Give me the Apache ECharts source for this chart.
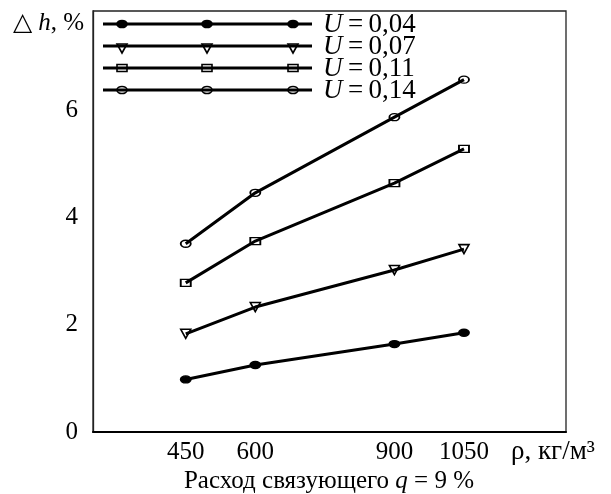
<!DOCTYPE html>
<html>
<head>
<meta charset="utf-8">
<script src="https://cdn.jsdelivr.net/npm/echarts@6/dist/echarts.min.js"></script>
<style>
  html, body { margin: 0; padding: 0; background: #fff; }
  #chart { width: 611px; height: 494px; }
</style>
</head>
<body>
<div id="chart"></div>
<script>
// Density of the material, kg/m³
const density = [450, 600, 900, 1050];
// Height change Δh, % for each U value
const u004 = [0.98, 1.25, 1.64, 1.85];
const u007 = [1.83, 2.33, 3.02, 3.41];
const u011 = [2.78, 3.56, 4.64, 5.28];
const u014 = [3.51, 4.46, 5.87, 6.57];
// Tick labels
const xTicks = [450, 600, 900, 1050];
const yTicks = [0, 2, 4, 6];
// Legend captions
const uLabels = ['0,04', '0,07', '0,11', '0,14'];

const FONT = '"Liberation Serif", "Times New Roman", serif';
const THIN = '\u2009';

const markers = [
  { symbol: 'circle', size: [10, 7], fill: '#000' },
  { symbol: 'triangle', size: [10, 9], fill: 'rgba(0,0,0,0)', rotate: 180 },
  { symbol: 'rect', size: [10, 7], fill: 'rgba(0,0,0,0)' },
  { symbol: 'circle', size: [10, 7], fill: 'rgba(0,0,0,0)' }
];
const values = [u004, u007, u011, u014];

const series = values.map((vals, i) => ({
  type: 'line',
  name: 'U = ' + uLabels[i],
  data: density.map((x, k) => [x, vals[k]]),
  symbol: markers[i].symbol,
  symbolSize: markers[i].size,
  symbolRotate: markers[i].rotate || 0,
  showAllSymbol: true,
  lineStyle: { color: '#000', width: 3 },
  itemStyle: { color: markers[i].fill, borderColor: '#000', borderWidth: 1.6 },
  emphasis: { disabled: true },
  animation: false,
  z: 3
}));

// Legend rows: a long line with three markers and the caption
const legendGraphics = [];
const rowY = [24, 46, 68, 90];
const lineX0 = 103, lineX1 = 312, markX = [122, 207, 293];
rowY.forEach((y, i) => {
  legendGraphics.push({
    type: 'line',
    shape: { x1: lineX0, y1: y, x2: lineX1, y2: y },
    style: { stroke: '#000', lineWidth: 3 }
  });
  markX.forEach(mx => {
    let el;
    if (i === 1) {
      el = { type: 'polygon', shape: { points: [[mx - 5, y - 2], [mx + 5, y - 2], [mx, y + 7]] } };
    } else if (i === 2) {
      el = { type: 'rect', shape: { x: mx - 5, y: y - 3.5, width: 10, height: 7 } };
    } else {
      el = { type: 'ellipse', shape: { cx: mx, cy: y, rx: 5, ry: 3.5 } };
    }
    el.style = { fill: i === 0 ? '#000' : 'rgba(0,0,0,0)', stroke: '#000', lineWidth: 1.6 };
    legendGraphics.push(el);
  });
  legendGraphics.push({
    type: 'text',
    x: 323, y: y + 1,
    style: {
      text: '{i|U}{a|' + THIN + '=' + THIN + uLabels[i] + '}',
      verticalAlign: 'middle',
      rich: {
        i: { fontFamily: FONT, fontSize: 27, fontStyle: 'italic', fill: '#000' },
        a: { fontFamily: FONT, fontSize: 27, fill: '#000' }
      }
    }
  });
});

const chart = echarts.init(document.getElementById('chart'), null, { renderer: 'canvas' });
chart.setOption({
  animation: false,
  backgroundColor: '#fff',
  grid: {
    left: 93, right: 45, top: 11, bottom: 62,
    show: true, borderColor: '#222', borderWidth: 1.3, backgroundColor: 'transparent'
  },
  xAxis: {
    type: 'value',
    min: 250, max: 1270,
    splitLine: { show: false },
    axisTick: { show: false },
    axisLine: { show: true, lineStyle: { color: '#000', width: 2 } },
    axisLabel: {
      customValues: xTicks,
      formatter: v => String(v),
      margin: 8,
      fontFamily: FONT, fontSize: 25, color: '#000'
    }
  },
  yAxis: {
    type: 'value',
    min: 0, max: 7.85,
    splitLine: { show: false },
    axisTick: { show: false },
    axisLine: { show: true, lineStyle: { color: '#222', width: 1.3 } },
    axisLabel: {
      customValues: yTicks,
      formatter: v => String(v),
      margin: 15,
      fontFamily: FONT, fontSize: 25, color: '#000'
    }
  },
  series: series,
  graphic: [
    {
      type: 'text', x: 13, y: 23,
      style: {
        text: '{a|△ }{i|h}{a|, %}',
        verticalAlign: 'middle',
        rich: {
          a: { fontFamily: FONT, fontSize: 25, fill: '#000' },
          i: { fontFamily: FONT, fontSize: 25, fontStyle: 'italic', fill: '#000' }
        }
      }
    },
    {
      type: 'text', x: 511, y: 452,
      style: {
        text: 'ρ, кг/м³',
        verticalAlign: 'middle',
        fontFamily: FONT, fontSize: 27, fill: '#000'
      }
    },
    {
      type: 'text', x: 329, y: 481,
      style: {
        text: '{a|Расход связующего }{i|q}{a| = 9 %}',
        align: 'center',
        verticalAlign: 'middle',
        rich: {
          a: { fontFamily: FONT, fontSize: 25, fill: '#000' },
          i: { fontFamily: FONT, fontSize: 25, fontStyle: 'italic', fill: '#000' }
        }
      }
    }
  ].concat(legendGraphics)
});
</script>
</body>
</html>
